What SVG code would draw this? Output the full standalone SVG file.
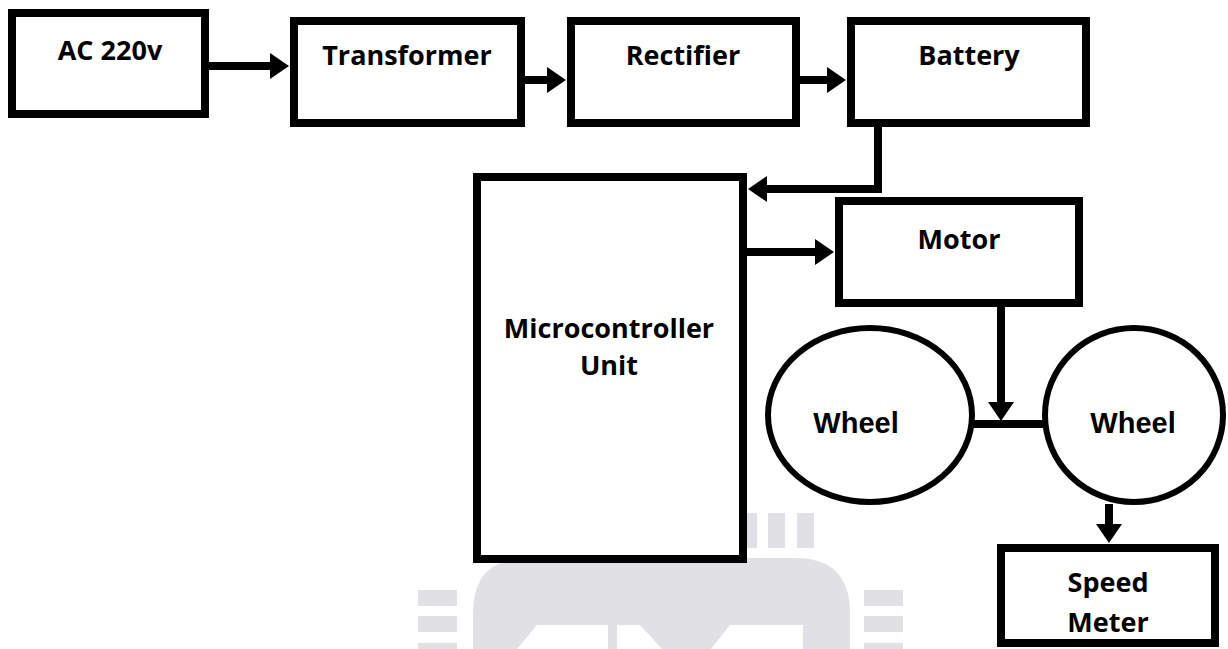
<svg xmlns="http://www.w3.org/2000/svg" width="1228" height="649" viewBox="0 0 1228 649">
<style>
.box{fill:#fff;stroke:#000;stroke-width:8}
.wheel{fill:#fff;stroke:#000;stroke-width:6}
.lbl{font-family:"Open Sans","Liberation Sans",sans-serif;font-weight:bold;font-size:27px;fill:#000;text-anchor:middle}
.wlbl{font-family:"Liberation Sans",Arial,sans-serif;font-weight:bold;font-size:29px;fill:#000;text-anchor:middle}
.conn{fill:none;stroke:#000;stroke-width:8}
.wm{fill:#e1e0e5}
</style>
<defs>
<marker id="ah" markerUnits="userSpaceOnUse" markerWidth="20" markerHeight="26" refX="1" refY="13" orient="auto">
<path d="M0,0 L19,13 L0,26 Z" fill="#000"/>
</marker>
</defs>
<g id="watermark">
<rect class="wm" x="740" y="513" width="17" height="35"/>
<rect class="wm" x="768" y="513" width="17" height="35"/>
<rect class="wm" x="797" y="513" width="17" height="35"/>
<path class="wm" d="M473,649 V613 Q473,558 528,558 H795 Q850,558 850,613 V649 Z"/>
<rect class="wm" x="418" y="590" width="39" height="16"/>
<rect class="wm" x="418" y="616" width="39" height="16"/>
<rect class="wm" x="418" y="643" width="39" height="6"/>
<rect class="wm" x="864" y="590" width="39" height="16"/>
<rect class="wm" x="864" y="616" width="39" height="16"/>
<rect class="wm" x="864" y="643" width="39" height="6"/>
<polygon fill="#fff" points="537,625 608,625 608,649 517,649"/>
<polygon fill="#fff" points="617,625 640,625 662,649 617,649"/>
<polygon fill="#fff" points="730,625 803,625 803,649 711,649"/>
</g>
<g id="connectors">
<line class="conn" x1="209" y1="66" x2="271" y2="66" stroke-width="9" marker-end="url(#ah)"/>
<line class="conn" x1="525" y1="80" x2="548" y2="80" stroke-width="7" marker-end="url(#ah)"/>
<line class="conn" x1="800" y1="80" x2="828" y2="80" stroke-width="7" marker-end="url(#ah)"/>
<polyline class="conn" points="878,117 878,189 766,189" stroke-width="8" marker-end="url(#ah)"/>
<line class="conn" x1="747" y1="252" x2="816" y2="252" stroke-width="8" marker-end="url(#ah)"/>
<line class="conn" x1="1001" y1="307" x2="1001" y2="403" stroke-width="8" marker-end="url(#ah)"/>
<line class="conn" x1="973" y1="424" x2="1043" y2="424" stroke-width="6"/>
<line class="conn" x1="1109" y1="504" x2="1109" y2="525" stroke-width="8" marker-end="url(#ah)"/>
</g>
<g id="ac">
<rect class="box" x="12" y="13" width="193" height="101"/>
<text class="lbl" x="110" y="60">AC 220v</text>
</g>
<g id="transformer">
<rect class="box" x="294" y="21" width="227" height="102"/>
<text class="lbl" x="407" y="65">Transformer</text>
</g>
<g id="rectifier">
<rect class="box" x="571" y="21" width="225" height="102"/>
<text class="lbl" x="683" y="65">Rectifier</text>
</g>
<g id="battery">
<rect class="box" x="851" y="21" width="235" height="102"/>
<text class="lbl" x="969" y="65">Battery</text>
</g>
<g id="mcu">
<rect class="box" x="477" y="177" width="266" height="382"/>
<text class="lbl" x="609" y="338">Microcontroller</text>
<text class="lbl" x="609" y="375">Unit</text>
</g>
<g id="motor">
<rect class="box" x="839" y="201" width="240" height="102"/>
<text class="lbl" x="959" y="249">Motor</text>
</g>
<g id="wheel1">
<ellipse class="wheel" cx="870" cy="415" rx="102" ry="87"/>
<text class="wlbl" x="856" y="433">Wheel</text>
</g>
<g id="wheel2">
<ellipse class="wheel" cx="1134" cy="415" rx="89" ry="87"/>
<text class="wlbl" x="1133" y="433">Wheel</text>
</g>
<g id="speedmeter">
<rect class="box" x="1001" y="548" width="214" height="95"/>
<text class="lbl" x="1108" y="592">Speed</text>
<text class="lbl" x="1108" y="632">Meter</text>
</g>
</svg>
